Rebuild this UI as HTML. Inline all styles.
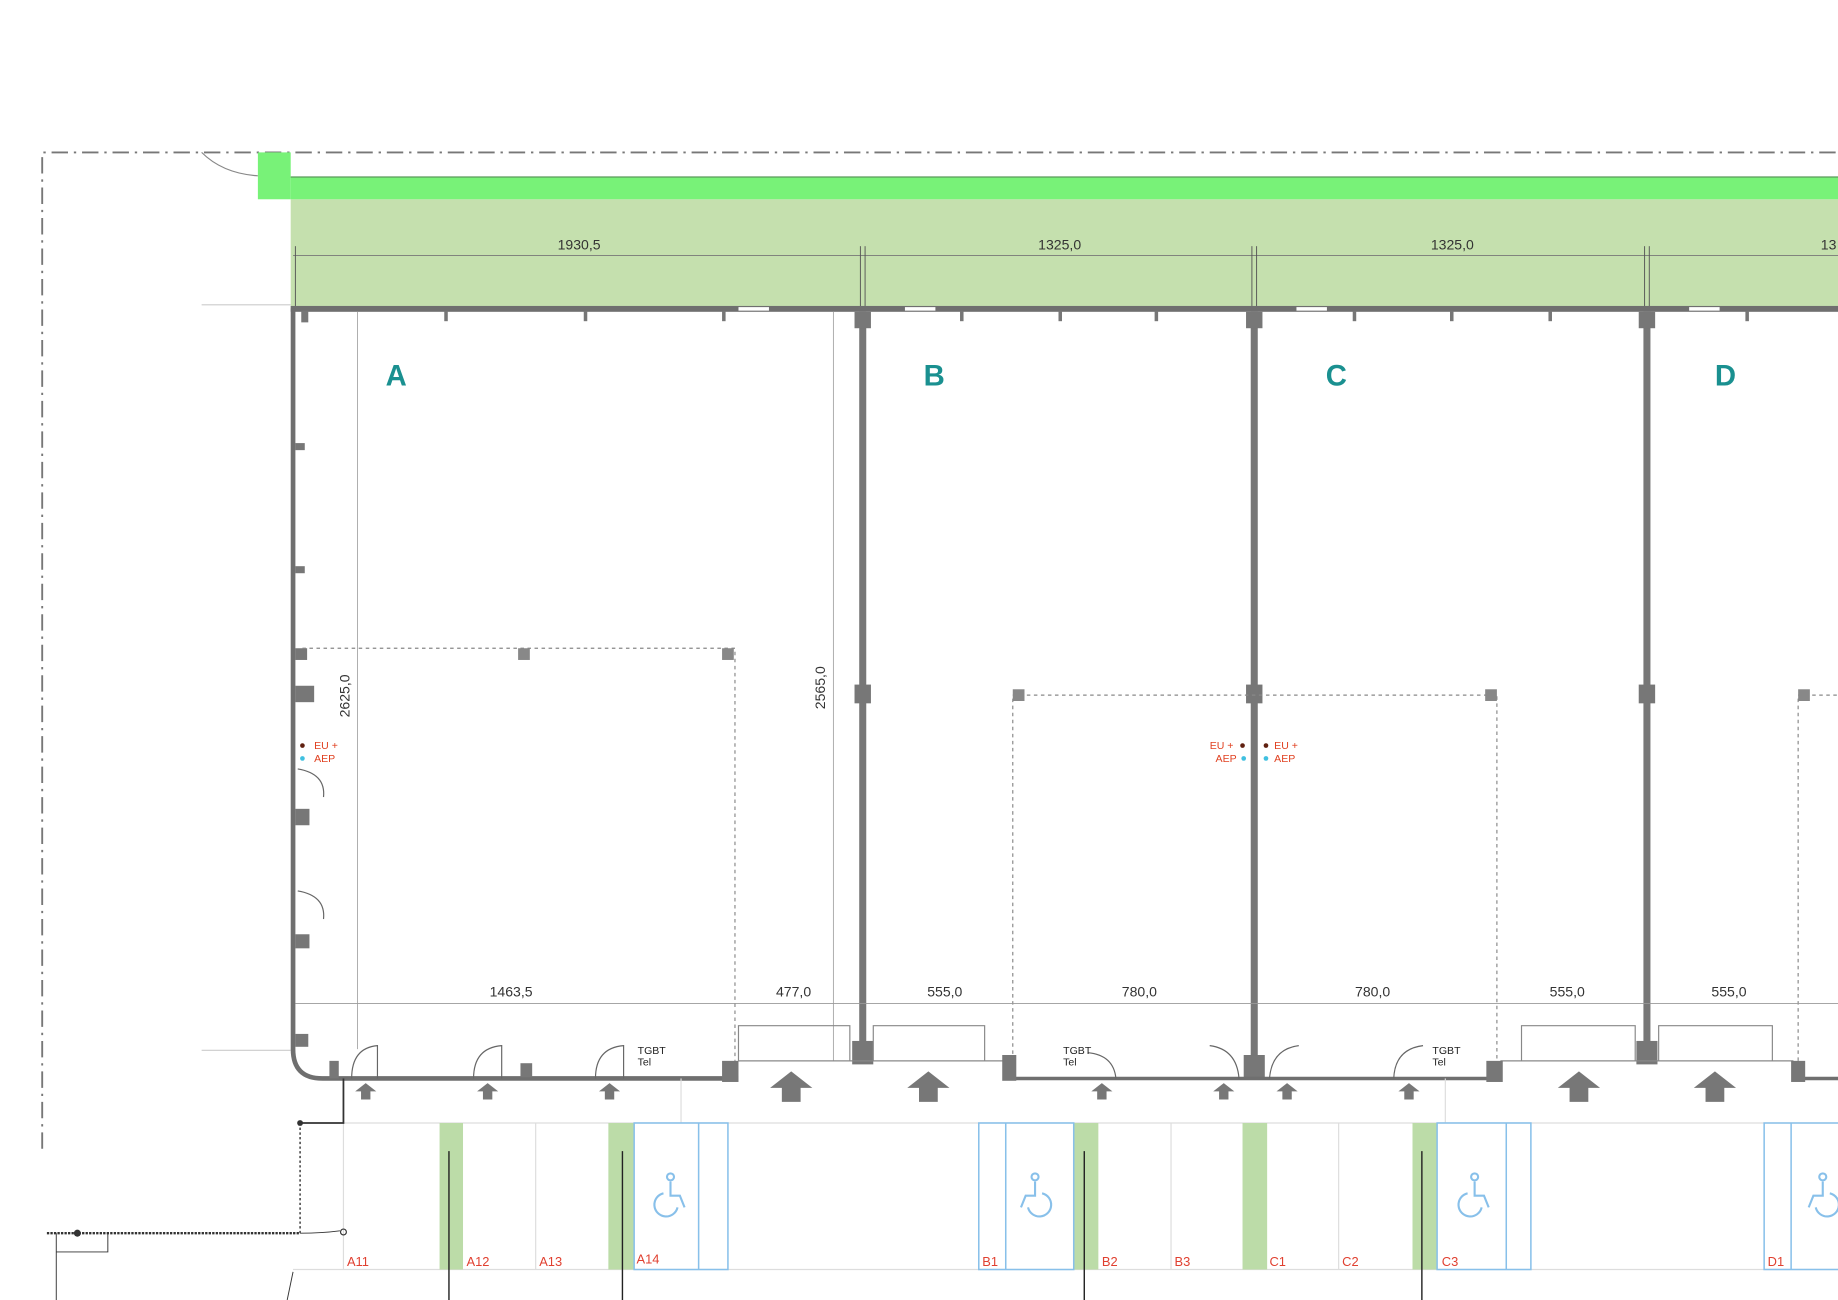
<!DOCTYPE html>
<html><head><meta charset="utf-8"><style>
html,body{margin:0;padding:0;background:#fff;}
svg{display:block;}
text{font-family:"Liberation Sans",sans-serif;}
</style></head><body>
<svg width="1838" height="1300" viewBox="0 0 1568 1109" preserveAspectRatio="none" xmlns="http://www.w3.org/2000/svg">
<!-- property line -->
<path d="M36 980 V130 H1568" fill="none" stroke="#777" stroke-width="1.6" stroke-dasharray="14,5,2,5"/>
<path d="M172 130 Q190 148 220 150" fill="none" stroke="#888" stroke-width="1"/>
<!-- greens -->
<rect x="248" y="170" width="1320" height="93" fill="#c5e0ae"/>
<rect x="220" y="130" width="28" height="40" fill="#78f278"/>
<rect x="248" y="151" width="1320" height="19" fill="#78f278"/>
<line x1="248" y1="151" x2="1568" y2="151" stroke="#5a9a5a" stroke-width="1"/>
<line x1="172" y1="260" x2="248" y2="260" stroke="#ccc" stroke-width="1"/>
<line x1="172" y1="896" x2="248" y2="896" stroke="#ccc" stroke-width="1"/>
<!-- top dims -->
<line x1="250" y1="218" x2="1568" y2="218" stroke="#777" stroke-width="0.8"/>
<g stroke="#555" stroke-width="0.8">
<line x1="252" y1="210" x2="252" y2="263"/><line x1="734" y1="210" x2="734" y2="263"/><line x1="738" y1="210" x2="738" y2="263"/>
<line x1="1068" y1="210" x2="1068" y2="263"/><line x1="1072" y1="210" x2="1072" y2="263"/>
<line x1="1403" y1="210" x2="1403" y2="263"/><line x1="1407" y1="210" x2="1407" y2="263"/></g>
<g font-size="12" fill="#333" text-anchor="middle">
<text x="494" y="213">1930,5</text><text x="904" y="213">1325,0</text><text x="1239" y="213">1325,0</text><text x="1560" y="213">13</text></g>
<!-- top wall -->
<rect x="248" y="261" width="1320" height="5" fill="#6f6f6f"/>
<g fill="#fff"><rect x="630" y="262" width="26" height="3"/><rect x="772" y="262" width="26" height="3"/><rect x="1106" y="262" width="26" height="3"/><rect x="1441" y="262" width="26" height="3"/></g>
<g fill="#777">
<rect x="379" y="265" width="3" height="9"/><rect x="498" y="265" width="3" height="9"/><rect x="616" y="265" width="3" height="9"/>
<rect x="819" y="265" width="3" height="9"/><rect x="903" y="265" width="3" height="9"/><rect x="985" y="265" width="3" height="9"/>
<rect x="1154" y="265" width="3" height="9"/><rect x="1237" y="265" width="3" height="9"/><rect x="1321" y="265" width="3" height="9"/><rect x="1489" y="265" width="3" height="9"/>
<rect x="257" y="265" width="6" height="10"/>
</g>
<!-- left wall + curve + bottom -->
<path d="M250 263 V895 Q250 920 275 920 H630" fill="none" stroke="#6f6f6f" stroke-width="4"/>
<line x1="305" y1="266" x2="305" y2="895" stroke="#aaa" stroke-width="0.8"/>
<line x1="711" y1="266" x2="711" y2="905" stroke="#aaa" stroke-width="0.8"/>
<g fill="#777"><rect x="252" y="378" width="8" height="6"/><rect x="252" y="483" width="8" height="6"/><rect x="252" y="553" width="10" height="10"/><rect x="252" y="585" width="16" height="14"/><rect x="252" y="690" width="12" height="14"/><rect x="252" y="797" width="12" height="12"/><rect x="252" y="882" width="11" height="11"/></g>
<!-- partitions -->
<g fill="#777">
<rect x="733" y="266" width="6" height="640"/><rect x="1067" y="266" width="6" height="640"/><rect x="1402" y="266" width="6" height="640"/>
<rect x="729" y="266" width="14" height="14"/><rect x="1063" y="266" width="14" height="14"/><rect x="1398" y="266" width="14" height="14"/>
<rect x="729" y="584" width="14" height="16"/><rect x="1063" y="584" width="14" height="16"/><rect x="1398" y="584" width="14" height="16"/>
<rect x="727" y="888" width="18" height="20"/><rect x="1061" y="900" width="18" height="20"/><rect x="1396" y="888" width="18" height="20"/>
</g>
<!-- labels -->
<g font-size="25" font-weight="bold" fill="#1a9090">
<text x="329" y="329">A</text><text x="788" y="329">B</text><text x="1131" y="329">C</text><text x="1463" y="329">D</text></g>
<!-- dotted rects -->
<g fill="none" stroke="#888" stroke-width="1" stroke-dasharray="3,3">
<path d="M258 553 H627 V905"/><path d="M864 905 V593 H1277 V905"/><path d="M1534 905 V593 H1568"/></g>
<g fill="#888"><rect x="442" y="553" width="10" height="10"/><rect x="616" y="553" width="10" height="10"/><rect x="864" y="588" width="10" height="10"/><rect x="1267" y="588" width="10" height="10"/><rect x="1534" y="588" width="10" height="10"/></g>
<text transform="translate(298,612) rotate(-90)" font-size="12" fill="#333">2625,0</text>
<text transform="translate(704,605) rotate(-90)" font-size="12" fill="#333">2565,0</text>
<!-- EU AEP -->
<g font-size="9" fill="#e04020">
<text x="268" y="639">EU +</text><text x="268" y="650">AEP</text>
<text x="1032" y="639">EU +</text><text x="1037" y="650">AEP</text>
<text x="1087" y="639">EU +</text><text x="1087" y="650">AEP</text></g>
<g><circle cx="258" cy="636" r="2" fill="#602010"/><circle cx="258" cy="647" r="2" fill="#40c0e0"/>
<circle cx="1060" cy="636" r="2" fill="#602010"/><circle cx="1061" cy="647" r="2" fill="#40c0e0"/>
<circle cx="1080" cy="636" r="2" fill="#602010"/><circle cx="1080" cy="647" r="2" fill="#40c0e0"/></g>
<g fill="none" stroke="#666" stroke-width="1"><path d="M254 656 Q278 660 276 680"/><path d="M254 760 Q278 764 276 784"/></g>
<!-- bottom dims -->
<line x1="252" y1="856" x2="1568" y2="856" stroke="#999" stroke-width="0.8"/>
<g font-size="12" fill="#333" text-anchor="middle">
<text x="436" y="850">1463,5</text><text x="677" y="850">477,0</text><text x="806" y="850">555,0</text><text x="972" y="850">780,0</text><text x="1171" y="850">780,0</text><text x="1337" y="850">555,0</text><text x="1475" y="850">555,0</text></g>
<!-- bottom wall segments -->
<g stroke="#6f6f6f" stroke-width="3"><line x1="860" y1="920" x2="1280" y2="920"/><line x1="1530" y1="920" x2="1568" y2="920"/></g>
<g fill="none" stroke="#888" stroke-width="1">
<path d="M630 905 V875 H725 V905"/><path d="M745 905 V875 H840 V905"/><path d="M1298 905 V875 H1395 V905"/><path d="M1415 905 V875 H1512 V905"/>
<line x1="630" y1="905" x2="860" y2="905"/><line x1="1280" y1="905" x2="1530" y2="905"/></g>
<g fill="#777"><rect x="616" y="905" width="14" height="18"/><rect x="855" y="900" width="12" height="22"/><rect x="1268" y="905" width="14" height="18"/><rect x="1528" y="905" width="12" height="18"/><rect x="444" y="907" width="10" height="12"/><rect x="281" y="905" width="8" height="15"/></g>
<g fill="none" stroke="#666" stroke-width="1">
<path d="M300 920 Q300 894 322 892 V920"/><path d="M404 920 Q404 894 428 892 V920"/><path d="M508 920 Q508 894 532 892 V920"/>
<path d="M928 898 Q950 900 952 920"/><path d="M1032 892 Q1055 895 1057 920"/><path d="M1083 920 Q1085 895 1108 892"/><path d="M1189 920 Q1190 895 1214 892"/></g>
<g font-size="9" fill="#222"><text x="544" y="899">TGBT</text><text x="544" y="909">Tel</text><text x="907" y="899">TGBT</text><text x="907" y="909">Tel</text><text x="1222" y="899">TGBT</text><text x="1222" y="909">Tel</text></g>
<!-- arrows -->
<g fill="#777">
<path d="M312 924 l9 7 h-5 v7 h-8 v-7 h-5z"/><path d="M416 924 l9 7 h-5 v7 h-8 v-7 h-5z"/><path d="M520 924 l9 7 h-5 v7 h-8 v-7 h-5z"/>
<path d="M940 924 l9 7 h-5 v7 h-8 v-7 h-5z"/><path d="M1044 924 l9 7 h-5 v7 h-8 v-7 h-5z"/><path d="M1098 924 l9 7 h-5 v7 h-8 v-7 h-5z"/><path d="M1202 924 l9 7 h-5 v7 h-8 v-7 h-5z"/>
<path d="M675 914 l18 14 h-10 v12 h-16 v-12 h-10z"/><path d="M792 914 l18 14 h-10 v12 h-16 v-12 h-10z"/><path d="M1347 914 l18 14 h-10 v12 h-16 v-12 h-10z"/><path d="M1463 914 l18 14 h-10 v12 h-16 v-12 h-10z"/></g>
<!-- parking -->
<g stroke="#ddd" stroke-width="1">
<line x1="293" y1="958" x2="1568" y2="958"/><line x1="250" y1="1083" x2="1568" y2="1083"/>
<line x1="293" y1="920" x2="293" y2="1083"/><line x1="457" y1="958" x2="457" y2="1083"/><line x1="581" y1="920" x2="581" y2="958"/>
<line x1="999" y1="958" x2="999" y2="1083"/><line x1="1142" y1="958" x2="1142" y2="1083"/><line x1="1233" y1="920" x2="1233" y2="958"/></g>
<g fill="#bcdca8"><rect x="375" y="958" width="20" height="125"/><rect x="519" y="958" width="22" height="125"/><rect x="916" y="958" width="21" height="125"/><rect x="1060" y="958" width="21" height="125"/><rect x="1205" y="958" width="21" height="125"/></g>
<g fill="none" stroke="#88c0ea" stroke-width="1.3">
<rect x="541" y="958" width="80" height="125"/><line x1="596" y1="958" x2="596" y2="1083"/>
<rect x="835" y="958" width="81" height="125"/><line x1="858" y1="958" x2="858" y2="1083"/>
<rect x="1226" y="958" width="80" height="125"/><line x1="1285" y1="958" x2="1285" y2="1083"/>
<path d="M1568 958 H1505 V1083 H1568"/><line x1="1528" y1="958" x2="1528" y2="1083"/>
</g>
<g fill="none" stroke="#88c0ea" stroke-width="1.8">
<g transform="translate(572,1022)"><circle cx="0" cy="-18" r="3"/><path d="M0 -14 v12 h8 l4 10 M-6 -4 a10 10 0 1 0 12 12"/></g>
<g transform="translate(883,1022)"><circle cx="0" cy="-18" r="3"/><path d="M0 -14 v12 h-8 l-4 10 M6 -4 a10 10 0 1 1 -12 12"/></g>
<g transform="translate(1258,1022)"><circle cx="0" cy="-18" r="3"/><path d="M0 -14 v12 h8 l4 10 M-6 -4 a10 10 0 1 0 12 12"/></g>
<g transform="translate(1555,1022)"><circle cx="0" cy="-18" r="3"/><path d="M0 -14 v12 h-8 l-4 10 M6 -4 a10 10 0 1 1 -12 12"/></g>
</g>
<g stroke="#222" stroke-width="1.2"><line x1="383" y1="982" x2="383" y2="1109"/><line x1="531" y1="982" x2="531" y2="1109"/><line x1="925" y1="982" x2="925" y2="1109"/><line x1="1213" y1="982" x2="1213" y2="1109"/></g>
<g font-size="11" fill="#e04030">
<text x="296" y="1080">A11</text><text x="398" y="1080">A12</text><text x="460" y="1080">A13</text><text x="543" y="1078">A14</text>
<text x="838" y="1080">B1</text><text x="940" y="1080">B2</text><text x="1002" y="1080">B3</text><text x="1083" y="1080">C1</text><text x="1145" y="1080">C2</text><text x="1230" y="1080">C3</text><text x="1508" y="1080">D1</text></g>
<!-- bottom-left -->
<g stroke="#333" fill="none">
<path d="M293 920 V958 H256" stroke-width="1.5"/>
<line x1="256" y1="958" x2="256" y2="1052" stroke-dasharray="2,2" stroke-width="1.2"/>
<line x1="40" y1="1052" x2="256" y2="1052" stroke-dasharray="2,1" stroke-width="2"/>
<path d="M48 1052 V1109 M48 1068 H92 V1052" stroke-width="0.8"/>
<path d="M256 1052 Q275 1052 290 1050" stroke-width="0.8"/>
<line x1="250" y1="1085" x2="245" y2="1109" stroke-width="0.8"/>
</g>
<circle cx="66" cy="1052" r="3" fill="#333"/><circle cx="256" cy="958" r="2.5" fill="#333"/><circle cx="293" cy="1051" r="2.5" fill="none" stroke="#333"/>
</svg>
</body></html>
